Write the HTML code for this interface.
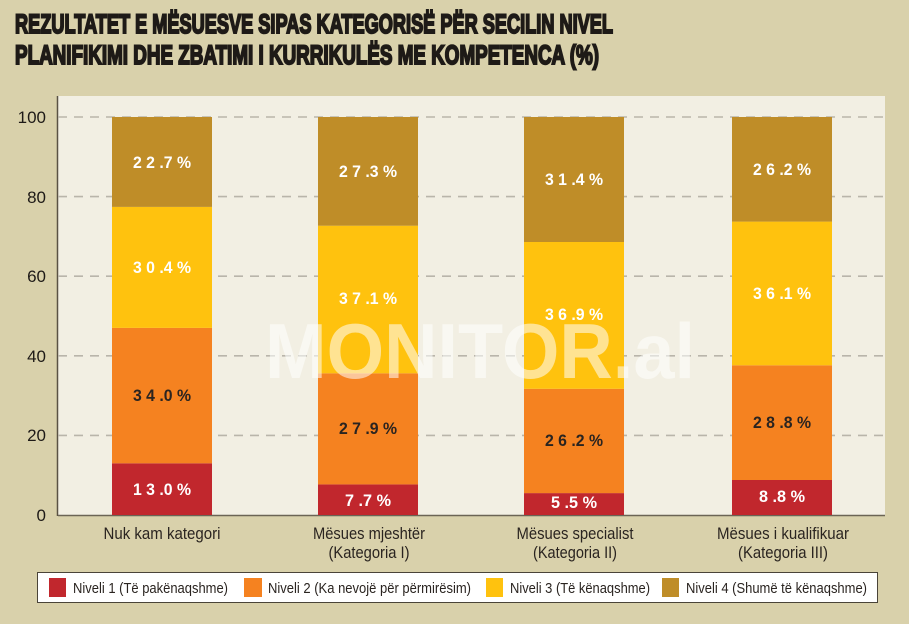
<!DOCTYPE html>
<html><head><meta charset="utf-8"><style>
html,body{margin:0;padding:0;background:#d9d1ab;}
svg{display:block}
text{font-family:"Liberation Sans",sans-serif;}
</style></head><body>
<svg width="909" height="624" viewBox="0 0 909 624" xmlns="http://www.w3.org/2000/svg">
<rect width="909" height="624" fill="#d9d1ab"/>
<g fill="#1e1a17" stroke="#1e1a17" stroke-width="2" font-weight="bold" font-size="27">
<text x="15" y="33" textLength="598" lengthAdjust="spacingAndGlyphs">REZULTATET E MËSUESVE SIPAS KATEGORISË PËR SECILIN NIVEL</text>
<text x="15" y="64" textLength="584" lengthAdjust="spacingAndGlyphs">PLANIFIKIMI DHE ZBATIMI I KURRIKULËS ME KOMPETENCA (%)</text>
</g>
<rect x="57" y="96" width="828" height="420" fill="#f2efe3"/>
<line x1="57.5" y1="96" x2="57.5" y2="516" stroke="#5a5244" stroke-width="1.5"/>
<g stroke="#b9b5aa" stroke-width="1.6" stroke-dasharray="9,7">
<line x1="58" y1="117" x2="885" y2="117"/>
<line x1="58" y1="196.6" x2="885" y2="196.6"/>
<line x1="58" y1="276.2" x2="885" y2="276.2"/>
<line x1="58" y1="355.8" x2="885" y2="355.8"/>
<line x1="58" y1="435.4" x2="885" y2="435.4"/>
</g>
<line x1="58" y1="515.5" x2="885" y2="515.5" stroke="#6b6455" stroke-width="1.5"/>
<g font-size="17" fill="#1e1a17" text-anchor="end">
<text x="46" y="123">100</text><text x="46" y="203">80</text><text x="46" y="282">60</text>
<text x="46" y="362">40</text><text x="46" y="441">20</text><text x="46" y="521">0</text>
</g>
<g>
<rect x="112" y="463.3" width="100" height="51.7" fill="#c1272d"/>
<rect x="112" y="327.9" width="100" height="135.4" fill="#f58220"/>
<rect x="112" y="206.9" width="100" height="121" fill="#ffc20e"/>
<rect x="112" y="117" width="100" height="89.9" fill="#bf8d28"/>

<rect x="318" y="484.4" width="100" height="30.6" fill="#c1272d"/>
<rect x="318" y="373.3" width="100" height="111.1" fill="#f58220"/>
<rect x="318" y="225.7" width="100" height="147.6" fill="#ffc20e"/>
<rect x="318" y="117" width="100" height="108.7" fill="#bf8d28"/>

<rect x="524" y="493.1" width="100" height="21.9" fill="#c1272d"/>
<rect x="524" y="388.8" width="100" height="104.3" fill="#f58220"/>
<rect x="524" y="242" width="100" height="146.8" fill="#ffc20e"/>
<rect x="524" y="117" width="100" height="125" fill="#bf8d28"/>

<rect x="732" y="480" width="100" height="35" fill="#c1272d"/>
<rect x="732" y="365.3" width="100" height="114.7" fill="#f58220"/>
<rect x="732" y="221.6" width="100" height="143.7" fill="#ffc20e"/>
<rect x="732" y="117" width="100" height="104.6" fill="#bf8d28"/>
</g>
<text x="480" y="378" text-anchor="middle" font-size="78" font-weight="bold" fill="#ffffff" fill-opacity="0.55" textLength="430" lengthAdjust="spacingAndGlyphs">MONITOR.al</text>
<g font-size="17" text-anchor="middle" font-weight="bold">
<text x="162" y="495" fill="#fff" textLength="58" lengthAdjust="spacingAndGlyphs">1 3 .0 %</text>
<text x="162" y="401" fill="#2a2420" textLength="58" lengthAdjust="spacingAndGlyphs">3 4 .0 %</text>
<text x="162" y="273" fill="#fff" textLength="58" lengthAdjust="spacingAndGlyphs">3 0 .4 %</text>
<text x="162" y="168" fill="#fff" textLength="58" lengthAdjust="spacingAndGlyphs">2 2 .7 %</text>
<text x="368" y="506" fill="#fff" textLength="46" lengthAdjust="spacingAndGlyphs">7 .7 %</text>
<text x="368" y="434" fill="#2a2420" textLength="58" lengthAdjust="spacingAndGlyphs">2 7 .9 %</text>
<text x="368" y="304" fill="#fff" textLength="58" lengthAdjust="spacingAndGlyphs">3 7 .1 %</text>
<text x="368" y="177" fill="#fff" textLength="58" lengthAdjust="spacingAndGlyphs">2 7 .3 %</text>
<text x="574" y="508" fill="#fff" textLength="46" lengthAdjust="spacingAndGlyphs">5 .5 %</text>
<text x="574" y="446" fill="#2a2420" textLength="58" lengthAdjust="spacingAndGlyphs">2 6 .2 %</text>
<text x="574" y="320" fill="#fff" textLength="58" lengthAdjust="spacingAndGlyphs">3 6 .9 %</text>
<text x="574" y="185" fill="#fff" textLength="58" lengthAdjust="spacingAndGlyphs">3 1 .4 %</text>
<text x="782" y="502" fill="#fff" textLength="46" lengthAdjust="spacingAndGlyphs">8 .8 %</text>
<text x="782" y="428" fill="#2a2420" textLength="58" lengthAdjust="spacingAndGlyphs">2 8 .8 %</text>
<text x="782" y="299" fill="#fff" textLength="58" lengthAdjust="spacingAndGlyphs">3 6 .1 %</text>
<text x="782" y="175" fill="#fff" textLength="58" lengthAdjust="spacingAndGlyphs">2 6 .2 %</text>
</g>
<g font-size="17" fill="#2a2420" text-anchor="middle">
<text x="162" y="539" textLength="117" lengthAdjust="spacingAndGlyphs">Nuk kam kategori</text>
<text x="369" y="539" textLength="112" lengthAdjust="spacingAndGlyphs">Mësues mjeshtër</text>
<text x="369" y="558" textLength="81" lengthAdjust="spacingAndGlyphs">(Kategoria I)</text>
<text x="575" y="539" textLength="117" lengthAdjust="spacingAndGlyphs">Mësues specialist</text>
<text x="575" y="558" textLength="84" lengthAdjust="spacingAndGlyphs">(Kategoria II)</text>
<text x="783" y="539" textLength="132" lengthAdjust="spacingAndGlyphs">Mësues i kualifikuar</text>
<text x="783" y="558" textLength="90" lengthAdjust="spacingAndGlyphs">(Kategoria III)</text>
</g>
<rect x="37.5" y="572.5" width="840" height="30" fill="#fff" stroke="#4a4438" stroke-width="1"/>
<g font-size="15" fill="#2a2420">
<rect x="49" y="578" width="17" height="19" fill="#c1272d"/>
<text x="73" y="593" textLength="155" lengthAdjust="spacingAndGlyphs">Niveli 1 (Të pakënaqshme)</text>
<rect x="244" y="578" width="18" height="19" fill="#f58220"/>
<text x="268" y="593" textLength="203" lengthAdjust="spacingAndGlyphs">Niveli 2 (Ka nevojë për përmirësim)</text>
<rect x="486" y="578" width="17" height="19" fill="#ffc20e"/>
<text x="510" y="593" textLength="140" lengthAdjust="spacingAndGlyphs">Niveli 3 (Të kënaqshme)</text>
<rect x="662" y="578" width="17" height="19" fill="#bf8d28"/>
<text x="686" y="593" textLength="181" lengthAdjust="spacingAndGlyphs">Niveli 4 (Shumë të kënaqshme)</text>
</g>
</svg>
</body></html>
